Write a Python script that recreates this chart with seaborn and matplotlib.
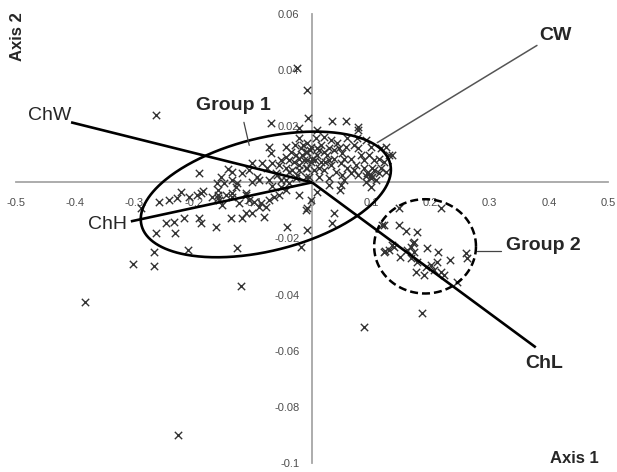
import numpy as np
import pandas as pd
import matplotlib
matplotlib.use("Agg")
import matplotlib.pyplot as plt
import seaborn as sns

# Individual scores on the first two axes (main cloud, incl. scattered individuals)
main_axis1 = [
    -0.264, -0.025, -0.008, -0.007, 0.034, 0.057, 0.078, -0.384, -0.303, -0.267,
    -0.267, -0.210, -0.232, -0.264, -0.127, -0.120, -0.226, -0.019, 0.088, 0.186,
    0.029, 0.049, 0.100, 0.037, 0.034, -0.008, -0.008, 0.118, 0.047, 0.100,
    0.091, 0.008, -0.002,
    -0.149, -0.127, -0.090, -0.068, -0.052, -0.044, -0.039, -0.022, -0.145, -0.135,
    -0.112, -0.106, -0.098, -0.090, -0.086, -0.123, -0.152, -0.073, -0.064, -0.056,
    -0.010, -0.137, -0.118, -0.101, -0.081, -0.042, -0.221, -0.242, -0.228, -0.194,
    -0.188, -0.184, -0.161, -0.159, -0.159, -0.159, -0.289, -0.247, -0.216, -0.188,
    -0.162, -0.259, -0.208, -0.169, -0.157, -0.135, -0.112, -0.191, -0.233, -0.128,
    -0.112, -0.078, -0.135,
    -0.191, -0.142, -0.135, -0.084, -0.068, -0.061, -0.052, -0.034, -0.044, -0.069,
    -0.069, -0.022, -0.022, -0.073, -0.044, -0.035, -0.052, -0.027, -0.019, -0.010,
    -0.101, -0.076, -0.044, -0.118, -0.106, -0.093, -0.059, -0.039, -0.030, -0.022,
    -0.014, -0.008, 0.000, -0.154, -0.101, -0.073, -0.044, -0.027, -0.010,
    0.078, 0.008, 0.007, 0.020, 0.032, 0.042, 0.059, 0.076, 0.091, -0.008,
    -0.002, 0.015, 0.029, 0.046, 0.057, 0.071, 0.078, 0.100, 0.117, 0.125,
    0.130, 0.135, -0.008, 0.008, 0.025, 0.037, 0.051, 0.066, 0.083, 0.096,
    0.105, 0.113, 0.122, -0.002, 0.015, 0.032, 0.049, 0.059, 0.074, 0.088,
    0.101, 0.117, 0.125, -0.010, 0.003, 0.020, 0.041, 0.051, 0.066, 0.078,
    0.093, 0.101, 0.113, -0.005, 0.012, 0.029, 0.054, 0.091, 0.100, 0.108,
    -0.017, -0.003, 0.005, -0.022, 0.012, 0.022, -0.015,
    -0.029, 0.008, 0.020, 0.037, -0.022, -0.008, 0.012, 0.029, 0.054, -0.039,
    -0.056, -0.025, 0.071, 0.088, 0.105,
]
main_axis2 = [
    0.0239, 0.0406, 0.0328, 0.0228, 0.0217, 0.0217, 0.0196, -0.0427, -0.0292, -0.0299,
    -0.0249, -0.0242, -0.0182, -0.0182, -0.0235, -0.0370, -0.0901, -0.0231, -0.0516, -0.0466,
    -0.0011, -0.0011, -0.0018, -0.0110, -0.0146, -0.0093, -0.0171, -0.0153, -0.0028, 0.0025,
    0.0021, -0.0036, -0.0064,
    -0.0004, -0.0004, 0.0007, -0.0014, -0.0018, -0.0028, -0.0004, -0.0046, -0.0046, -0.0053,
    -0.0046, -0.0064, -0.0071, -0.0089, -0.0075, -0.0075, -0.0082, -0.0064, -0.0053, -0.0046,
    -0.0100, -0.0128, -0.0128, -0.0110, -0.0125, -0.0160, -0.0036, -0.0064, -0.0057, -0.0046,
    -0.0039, -0.0032, -0.0004, -0.0028, -0.0046, -0.0057, -0.0093, -0.0146, -0.0128, -0.0146,
    -0.0160, -0.0071, -0.0053, -0.0053, -0.0064, -0.0039, -0.0110, -0.0128, -0.0142, -0.0018,
    -0.0039, -0.0089, 0.0007,
    0.0032, 0.0046, 0.0036, 0.0068, 0.0068, 0.0032, 0.0007, 0.0043, 0.0089, 0.0103,
    0.0210, 0.0192, 0.0157, 0.0125, 0.0125, 0.0107, 0.0078, 0.0096, 0.0121, 0.0107,
    0.0068, 0.0050, 0.0050, 0.0032, 0.0043, 0.0018, 0.0025, 0.0036, 0.0071, 0.0043,
    0.0078, 0.0053, 0.0085, 0.0018, 0.0000, 0.0007, 0.0007, 0.0014, 0.0018,
    0.0185, 0.0185, 0.0157, 0.0160, 0.0150, 0.0142, 0.0157, 0.0157, 0.0150, 0.0142,
    0.0125, 0.0132, 0.0121, 0.0121, 0.0125, 0.0132, 0.0121, 0.0125, 0.0121, 0.0125,
    0.0096, 0.0096, 0.0107, 0.0096, 0.0096, 0.0085, 0.0103, 0.0085, 0.0096, 0.0096,
    0.0078, 0.0085, 0.0071, 0.0071, 0.0071, 0.0061, 0.0068, 0.0053, 0.0061, 0.0053,
    0.0053, 0.0050, 0.0036, 0.0050, 0.0043, 0.0043, 0.0036, 0.0025, 0.0032, 0.0025,
    0.0032, 0.0018, 0.0032, 0.0018, 0.0018, 0.0014, 0.0007, 0.0000, 0.0014, 0.0007,
    0.0096, 0.0114, 0.0078, 0.0061, 0.0114, 0.0071, 0.0132,
    0.0132, 0.0121, 0.0107, 0.0114, 0.0085, 0.0078, 0.0050, 0.0078, 0.0085, 0.0078,
    0.0061, 0.0025, 0.0043, 0.0078, 0.0043,
]

# Individual scores belonging to the second group
grp2_axis1 = [
    0.147, 0.218, 0.122, 0.147, 0.159, 0.177, 0.171, 0.122, 0.130, 0.139,
    0.161, 0.172, 0.194, 0.213, 0.260, 0.262, 0.149, 0.167, 0.177, 0.211,
    0.233, 0.201, 0.193, 0.176, 0.189, 0.206, 0.218, 0.223, 0.245, 0.167,
    0.172, 0.135, 0.123,
]
grp2_axis2 = [
    -0.0093, -0.0093, -0.0153, -0.0153, -0.0174, -0.0178, -0.0217, -0.0249, -0.0242, -0.0231,
    -0.0242, -0.0249, -0.0235, -0.0249, -0.0253, -0.0271, -0.0267, -0.0271, -0.0285, -0.0285,
    -0.0278, -0.0295, -0.0303, -0.0320, -0.0331, -0.0313, -0.0320, -0.0331, -0.0356, -0.0231,
    -0.0214, -0.0224, -0.0246,
]

# Variable loadings (arrow tips)
var_names = ["ChW", "ChH", "CW", "ChL"]
var_axis1 = [-0.407, -0.306, 0.380, 0.378]
var_axis2 = [0.0214, -0.0139, 0.0488, -0.0588]

x_ticks = [-0.5, -0.4, -0.3, -0.2, -0.1, 0.0, 0.1, 0.2, 0.3, 0.4, 0.5]
x_tick_labels = ["-0.5", "-0.4", "-0.3", "-0.2", "-0.1", "0", "0.1", "0.2", "0.3", "0.4", "0.5"]
y_ticks = [-0.1, -0.08, -0.06, -0.04, -0.02, 0.0, 0.02, 0.04, 0.06]
y_tick_labels = ["-0.1", "-0.08", "-0.06", "-0.04", "-0.02", "", "0.02", "0.04", "0.06"]

sns.set_style("white")
plt.rcParams["font.family"] = ["Liberation Sans", "DejaVu Sans"]

fig = plt.figure(figsize=(6.17, 4.72), dpi=100)
ax = fig.add_axes([16 / 617, 9 / 472, 592 / 617, 449 / 472])
ax.set_xlim(-0.5, 0.5)
ax.set_ylim(-0.1, 0.06)

scores = pd.DataFrame({
    "Axis 1": main_axis1 + grp2_axis1,
    "Axis 2": main_axis2 + grp2_axis2,
})

# Axes crossing at the origin
axis_grey = "#a6a6a6"
for side in ("top", "right"):
    ax.spines[side].set_visible(False)
for side in ("left", "bottom"):
    ax.spines[side].set_position(("data", 0))
    ax.spines[side].set_color(axis_grey)
    ax.spines[side].set_linewidth(1.3)
ax.set_xticks(x_ticks)
ax.set_xticklabels(x_tick_labels)
ax.set_yticks(y_ticks)
ax.set_yticklabels(y_tick_labels)
ax.tick_params(axis="x", direction="out", length=3.5, width=1.1, color=axis_grey,
               pad=7.5, labelsize=8, labelcolor="#4d4d4d")
ax.tick_params(axis="y", direction="out", length=3.5, width=1.1, color=axis_grey,
               pad=5.5, labelsize=8, labelcolor="#4d4d4d")

# Individuals
sns.scatterplot(data=scores, x="Axis 1", y="Axis 2", marker="x", color="#333333",
                s=28, linewidth=1.0, ax=ax, zorder=3, legend=False)
ax.set_xlabel("")
ax.set_ylabel("")

# Loading vectors from the origin
for name, vx, vy in zip(var_names, var_axis1, var_axis2):
    if name == "CW":
        ax.plot([0.29 * vx, vx], [0.29 * vy, vy], color="#555555", lw=1.1, zorder=4)
    else:
        ax.plot([0, vx], [0, vy], color="black", lw=1.9, zorder=4,
                solid_capstyle="butt")

# Group 1 ellipse (centre plus conjugate semi-axes)
t = np.linspace(0, 2 * np.pi, 400)
g1_centre = (-0.078, -0.0043)
g1_major = (0.210, 0.0110)
g1_minor = (-0.0231, 0.0195)
ax.plot(g1_centre[0] + np.cos(t) * g1_major[0] + np.sin(t) * g1_minor[0],
        g1_centre[1] + np.cos(t) * g1_major[1] + np.sin(t) * g1_minor[1],
        color="black", lw=1.9, zorder=5)

# Group 2 dashed circle
g2_centre = (0.191, -0.0228)
g2_radius = (0.086, 0.0168)
ax.plot(g2_centre[0] + g2_radius[0] * np.cos(t), g2_centre[1] + g2_radius[1] * np.sin(t),
        color="black", lw=1.8, ls=(0, (3.2, 1.6)), zorder=5)

# Leader lines for the group labels
ax.plot([-0.115, -0.106], [0.0214, 0.0132], color="#444444", lw=0.9, zorder=5)
ax.plot([0.279, 0.319], [-0.0246, -0.0246], color="#444444", lw=0.9, zorder=5)

# Labels
ax.text(-0.443, 0.0239, "ChW", fontsize=14, ha="center", va="center")
ax.text(-0.345, -0.0150, "ChH", fontsize=14, ha="center", va="center")
ax.text(0.411, 0.0523, "CW", fontsize=14, fontweight="bold", ha="center", va="center")
ax.text(0.392, -0.0644, "ChL", fontsize=14, fontweight="bold", ha="center", va="center")
ax.text(-0.133, 0.0274, "Group 1", fontsize=14, fontweight="bold", ha="center", va="center")
ax.text(0.390, -0.0224, "Group 2", fontsize=14, fontweight="bold", ha="center", va="center")
ax.text(0.443, -0.0983, "Axis 1", fontsize=12, fontweight="bold", ha="center", va="center")
ax.text(-0.497, 0.052, "Axis 2", fontsize=12, fontweight="bold", ha="center", va="center",
        rotation=90)

fig.savefig("out.png", dpi=100)
